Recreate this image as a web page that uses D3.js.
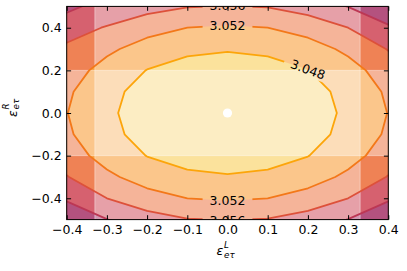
<!DOCTYPE html>
<html>
<head>
<meta charset="utf-8">
<script src="https://cdn.jsdelivr.net/npm/d3@7"></script>
<style>
  body { margin: 0; background: #fff; }
  text { font-family: "DejaVu Sans", sans-serif; }
</style>
</head>
<body>
<svg id="chart"></svg>
<script>
// sampled surface (rows top to bottom)
const gridX = [-0.5, -0.4, -0.3, -0.2, -0.1, 0, 0.1, 0.2, 0.3, 0.4, 0.5]
const gridY = [0.6, 0.5, 0.4, 0.3, 0.2, 0.1, 0, -0.1, -0.2, -0.3, -0.4, -0.5, -0.6]
const gridZ = [
  [3.0700, 3.0660, 3.0630, 3.0627, 3.0612, 3.0607, 3.0612, 3.0627, 3.0652, 3.0686, 3.0731],
  [3.0680, 3.0612, 3.0580, 3.0574, 3.0562, 3.0559, 3.0562, 3.0577, 3.0601, 3.0636, 3.0680],
  [3.0639, 3.0572, 3.0558, 3.0535, 3.0520, 3.0515, 3.0520, 3.0535, 3.0560, 3.0594, 3.0639],
  [3.0607, 3.0555, 3.0528, 3.0503, 3.0488, 3.0483, 3.0488, 3.0503, 3.0528, 3.0562, 3.0607],
  [3.0584, 3.0539, 3.0505, 3.0479, 3.0465, 3.0460, 3.0465, 3.0479, 3.0505, 3.0539, 3.0584],
  [3.0570, 3.0526, 3.0491, 3.0466, 3.0452, 3.0447, 3.0452, 3.0466, 3.0491, 3.0526, 3.0570],
  [3.0566, 3.0521, 3.0487, 3.0462, 3.0447, 3.0442, 3.0447, 3.0462, 3.0487, 3.0521, 3.0566],
  [3.0570, 3.0526, 3.0491, 3.0466, 3.0452, 3.0447, 3.0452, 3.0466, 3.0491, 3.0526, 3.0570],
  [3.0584, 3.0539, 3.0505, 3.0479, 3.0465, 3.0460, 3.0465, 3.0479, 3.0505, 3.0539, 3.0584],
  [3.0607, 3.0562, 3.0528, 3.0503, 3.0488, 3.0483, 3.0488, 3.0503, 3.0528, 3.0562, 3.0607],
  [3.0639, 3.0594, 3.0560, 3.0535, 3.0520, 3.0515, 3.0520, 3.0535, 3.0560, 3.0594, 3.0639],
  [3.0680, 3.0636, 3.0601, 3.0577, 3.0562, 3.0559, 3.0562, 3.0577, 3.0601, 3.0636, 3.0680],
  [3.0731, 3.0686, 3.0652, 3.0627, 3.0612, 3.0607, 3.0612, 3.0627, 3.0652, 3.0686, 3.0731],
]
const levels = [3.048, 3.052, 3.056, 3.060]
const fillColors = ["#f9cf5a", "#f9a03e", "#ef8255", "#d6616f", "#b4527f"]
const lineColors = ["#fca50a", "#f37819", "#dd513a", "#bc3754"]

// shaded bands and best point
const bandX = [-0.33, 0.33]
const bandY = [-0.2, 0.2]
const bestPoint = [0, 0]

const xTicks = [-0.4, -0.3, -0.2, -0.1, 0, 0.1, 0.2, 0.3, 0.4]
const yTicks = [-0.4, -0.2, 0, 0.2, 0.4]

// inline contour labels: level, x where it sits, which branch (1 upper, -1 lower), tilt
const labelLevel = [3.048, 3.052, 3.052, 3.056, 3.056]
const labelAtX = [0.2, 0, 0, 0, 0]
const labelSide = [1, 1, -1, 1, -1]
const labelTilt = [20, 0, 0, 0, 0]

const W = 407, H = 271
const m = { left: 66.7, right: 388.3, top: 6.4, bottom: 219.6 }
const fs = 12.5

const svg = d3.select("#chart").attr("width", W).attr("height", H)

const x = d3.scaleLinear().domain([-0.4, 0.4]).range([m.left, m.right])
const y = d3.scaleLinear().domain([-0.5, 0.5]).range([m.bottom, m.top])

const nx = gridX.length, ny = gridY.length
// d3.contours puts grid point i at coordinate i + 0.5
const gx = d3.scaleLinear().domain([0.5, nx - 0.5]).range([gridX[0], gridX[nx - 1]])
const gy = d3.scaleLinear().domain([0.5, ny - 0.5]).range([gridY[0], gridY[ny - 1]])

const contours = d3.contours().size([nx, ny]).thresholds(levels)(gridZ.flat())

const path = d3.geoPath(d3.geoTransform({
  point: function (px, py) { this.stream.point(x(gx(px)), y(gy(py))) }
}))

const defs = svg.append("defs")
defs.append("clipPath").attr("id", "plotclip")
  .append("rect")
  .attr("x", m.left).attr("y", m.top)
  .attr("width", m.right - m.left).attr("height", m.bottom - m.top)

const plot = svg.append("g").attr("clip-path", "url(#plotclip)")

// filled levels
plot.append("rect")
  .attr("x", m.left).attr("y", m.top)
  .attr("width", m.right - m.left).attr("height", m.bottom - m.top)
  .attr("fill", fillColors[0])
plot.append("g").selectAll("path").data(contours).enter().append("path")
  .attr("d", path)
  .attr("fill", (d, i) => fillColors[i + 1])
  .attr("stroke", "none")

// white bands
plot.append("rect")
  .attr("x", x(bandX[0])).attr("y", m.top - 2)
  .attr("width", x(bandX[1]) - x(bandX[0])).attr("height", m.bottom - m.top + 4)
  .attr("fill", "#fff").attr("fill-opacity", 0.4)
  .attr("stroke", "#fff").attr("stroke-opacity", 0.4)
plot.append("rect")
  .attr("x", m.left - 2).attr("y", y(bandY[1]))
  .attr("width", m.right - m.left + 4).attr("height", y(bandY[0]) - y(bandY[1]))
  .attr("fill", "#fff").attr("fill-opacity", 0.4)
  .attr("stroke", "#fff").attr("stroke-opacity", 0.4)

// find where a contour crosses a vertical line
let findLabel = (level, xl, side) => {
  let c = contours[levels.indexOf(level)]
  let best = null
  for (let poly of c.coordinates) {
    for (let ring of poly) {
      for (let k = 0; k < ring.length - 1; k++) {
        let p = [gx(ring[k][0]), gy(ring[k][1])]
        let q = [gx(ring[k + 1][0]), gy(ring[k + 1][1])]
        if (p[0] === q[0]) continue
        if ((p[0] - xl) * (q[0] - xl) > 0) continue
        let t = (xl - p[0]) / (q[0] - p[0])
        let yy = p[1] + t * (q[1] - p[1])
        if (yy * side <= 0) continue
        if (best === null || Math.abs(yy) < Math.abs(best)) best = yy
      }
    }
  }
  return [xl, best]
}

const labels = labelLevel.map((lv, i) => {
  let pt = findLabel(lv, labelAtX[i], labelSide[i])
  return { level: lv, px: x(pt[0]), py: y(pt[1]), tilt: labelTilt[i] }
})

// text first (to measure), mask built from it
const labelGroup = svg.append("g").attr("clip-path", "url(#plotclip)")
labelGroup.selectAll("text").data(labels).enter().append("text")
  .attr("transform", d => `translate(${d.px},${d.py}) rotate(${d.tilt})`)
  .attr("text-anchor", "middle")
  .attr("dy", "0.36em")
  .attr("font-size", fs)
  .attr("fill", "#000")
  .text(d => d3.format(".3f")(d.level))
labelGroup.selectAll("text").each(function (d) { d.w = this.getComputedTextLength() })

const mask = defs.append("mask").attr("id", "gapmask").attr("maskUnits", "userSpaceOnUse")
  .attr("x", 0).attr("y", 0).attr("width", W).attr("height", H)
mask.append("rect").attr("width", W).attr("height", H).attr("fill", "#fff")
mask.selectAll("rect.gap").data(labels).enter().append("rect")
  .attr("class", "gap")
  .attr("x", d => -d.w / 2 - 7).attr("y", -7)
  .attr("width", d => d.w + 14).attr("height", 14)
  .attr("transform", d => `translate(${d.px},${d.py}) rotate(${d.tilt})`)
  .attr("fill", "#000")

// contour lines
plot.append("g").attr("mask", "url(#gapmask)")
  .selectAll("path").data(contours).enter().append("path")
  .attr("d", path)
  .attr("fill", "none")
  .attr("stroke", (d, i) => lineColors[i])
  .attr("stroke-width", 1.8)
  .attr("stroke-linejoin", "round")

labelGroup.raise()

// best point
svg.append("circle")
  .attr("cx", x(bestPoint[0])).attr("cy", y(bestPoint[1]))
  .attr("r", 4.6).attr("fill", "#fff")

// axes with inward ticks on all sides
const fmt = d3.format(".1f")
let styleAxis = g => {
  g.select(".domain").remove()
  g.selectAll(".tick line").attr("stroke", "#000").attr("stroke-width", 1)
  g.selectAll("text").attr("font-size", fs).attr("fill", "#000").attr("font-family", "DejaVu Sans")
}
svg.append("g").attr("transform", `translate(0,${m.bottom})`)
  .call(d3.axisBottom(x).tickValues(xTicks).tickFormat(fmt).tickSize(-4.4).tickPadding(6))
  .call(styleAxis)
svg.append("g").attr("transform", `translate(0,${m.top})`)
  .call(d3.axisTop(x).tickValues(xTicks).tickFormat("").tickSize(-4.4))
  .call(styleAxis)
svg.append("g").attr("transform", `translate(${m.left},0)`)
  .call(d3.axisLeft(y).tickValues(yTicks).tickFormat(fmt).tickSize(-4.4).tickPadding(5))
  .call(styleAxis)
svg.append("g").attr("transform", `translate(${m.right},0)`)
  .call(d3.axisRight(y).tickValues(yTicks).tickFormat("").tickSize(-4.4))
  .call(styleAxis)

svg.append("rect")
  .attr("x", m.left).attr("y", m.top)
  .attr("width", m.right - m.left).attr("height", m.bottom - m.top)
  .attr("fill", "none").attr("stroke", "#000").attr("stroke-width", 1)

// axis titles: epsilon with stacked super/subscripts
let mathLabel = (g, sup, sub) => {
  g.append("text").attr("x", -9).attr("y", 0)
    .attr("font-size", fs).attr("font-style", "italic").text("ε")
  g.append("text").attr("x", -1.5).attr("y", -7.3)
    .attr("font-size", fs * 0.7).attr("font-style", "italic").text(sup)
  g.append("text").attr("x", -1.5).attr("y", 2.5)
    .attr("font-size", fs * 0.7).attr("font-style", "italic").text(sub)
}
mathLabel(svg.append("g").attr("transform", `translate(${(m.left + m.right) / 2 - 2},255)`), "L", "eτ")
mathLabel(svg.append("g").attr("transform", `translate(16.5,108) rotate(-90)`), "R", "eτ")
</script>
</body>
</html>
